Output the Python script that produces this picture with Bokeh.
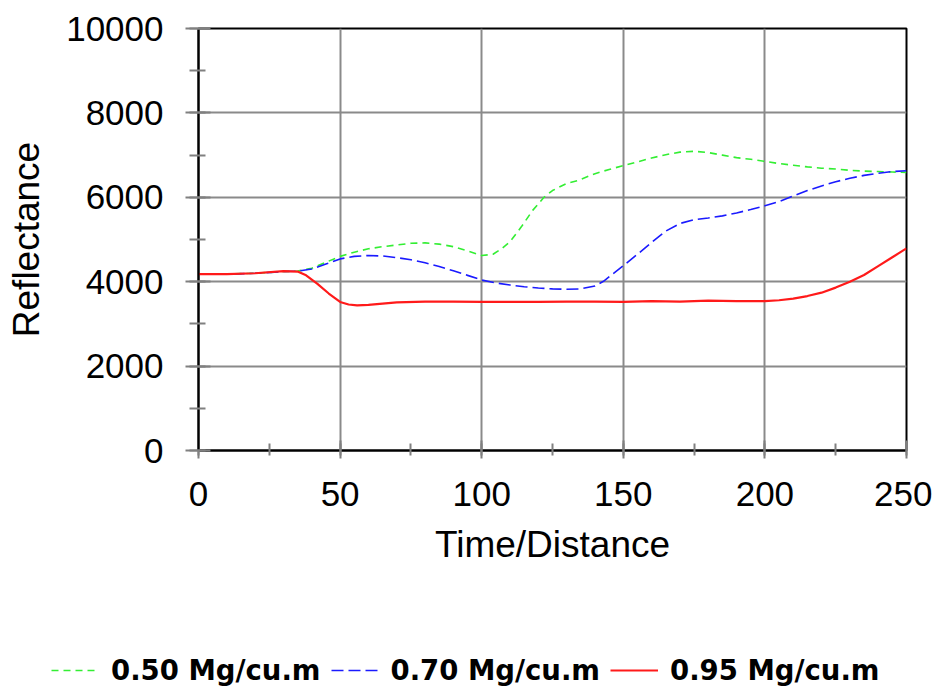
from bokeh.plotting import figure
from bokeh.layouts import column
from bokeh.models import Legend, LegendItem, SingleIntervalTicker, Range1d
from bokeh.embed import file_html
from bokeh.resources import INLINE

# ---- data ----
series_names = ["0.50 Mg/cu.m", "0.70 Mg/cu.m", "0.95 Mg/cu.m"]

x_050 = [0, 10, 20, 30, 35, 40, 45, 50, 55, 60, 65, 70, 75, 80, 85, 90, 95, 100,
         104, 107, 110, 114, 118, 122, 125, 130, 134, 140, 145, 150, 155, 160, 165,
         170, 175, 180, 185, 190, 195, 200, 205, 210, 215, 220, 225, 230, 235, 240,
         245, 250]
y_050 = [4180, 4180, 4200, 4240, 4250, 4320, 4460, 4600, 4700, 4780, 4830, 4870, 4910,
         4920, 4890, 4830, 4730, 4620, 4650, 4780, 4950, 5300, 5690, 6000, 6160, 6330,
         6400, 6560, 6660, 6750, 6840, 6930, 7010, 7070, 7090, 7060, 7000, 6940, 6900,
         6850, 6800, 6760, 6720, 6690, 6670, 6640, 6620, 6610, 6600, 6590]

x_070 = [0, 10, 20, 30, 35, 40, 45, 50, 55, 60, 65, 70, 75, 80, 85, 90, 95, 100, 105,
         110, 115, 120, 125, 130, 135, 140, 143, 146, 150, 155, 160, 165, 170, 175, 180,
         185, 190, 195, 200, 205, 210, 215, 220, 225, 230, 235, 240, 245, 250]
y_070 = [4180, 4180, 4200, 4240, 4250, 4300, 4420, 4540, 4600, 4620, 4610, 4570, 4520,
         4450, 4360, 4260, 4150, 4040, 3970, 3920, 3880, 3850, 3830, 3820, 3830, 3900,
         4010, 4170, 4380, 4650, 4930, 5200, 5380, 5470, 5510, 5560, 5630, 5710, 5800,
         5900, 6030, 6160, 6270, 6370, 6450, 6520, 6570, 6610, 6630]

x_095 = [0, 10, 20, 30, 35, 38, 42, 46, 50, 53, 56, 60, 65, 70, 80, 90, 100, 110, 120,
         130, 140, 150, 160, 170, 180, 190, 200, 205, 210, 215, 220, 225, 230, 235, 240,
         245, 250]
y_095 = [4180, 4180, 4200, 4250, 4240, 4150, 3950, 3720, 3520, 3460, 3440, 3450, 3480,
         3510, 3530, 3530, 3520, 3520, 3520, 3530, 3530, 3520, 3540, 3530, 3550, 3540,
         3540, 3560, 3600, 3660, 3740, 3860, 4000, 4160, 4370, 4580, 4790]

FONT = "Liberation Sans"
styles = [dict(line_color="#33ee33", line_width=1.6, line_dash="7 5"),
          dict(line_color="#1a1aff", line_width=1.6, line_dash="12 5"),
          dict(line_color="#ff1a1a", line_width=2.2)]
series = [(x_050, y_050), (x_070, y_070), (x_095, y_095)]

p = figure(frame_width=708, frame_height=422,
           min_border_left=198, min_border_right=26, min_border_top=28,
           min_border_bottom=140,
           x_range=Range1d(0, 250), y_range=Range1d(0, 10000),
           output_backend="svg", toolbar_location=None,
           x_axis_label="Time/Distance", y_axis_label="Reflectance")

p.background_fill_color = "white"
p.border_fill_color = "white"
p.outline_line_color = "black"
p.outline_line_width = 2

p.xaxis.ticker = SingleIntervalTicker(interval=50, num_minor_ticks=2)
p.yaxis.ticker = SingleIntervalTicker(interval=2000, num_minor_ticks=2)
p.xgrid.ticker = SingleIntervalTicker(interval=50)
p.ygrid.ticker = SingleIntervalTicker(interval=2000)

for g in (p.xgrid, p.ygrid):
    g.grid_line_color = "#8a8a8a"
    g.grid_line_width = 2

for ax in (p.xaxis, p.yaxis):
    ax.axis_line_color = "black"
    ax.axis_line_width = 2
    ax.major_tick_line_color = "#808080"
    ax.major_tick_line_width = 2
    ax.minor_tick_line_color = "#808080"
    ax.minor_tick_line_width = 2
    ax.major_label_text_font = FONT
    ax.major_label_text_font_size = "35px"
    ax.major_label_text_color = "black"
    ax.axis_label_text_font = FONT
    ax.axis_label_text_font_size = "37px"
    ax.axis_label_text_font_style = "normal"
    ax.axis_label_text_color = "black"

p.yaxis.major_tick_out = 13
p.yaxis.major_tick_in = 12
p.yaxis.minor_tick_out = 9
p.yaxis.minor_tick_in = 7
p.yaxis.major_label_standoff = 22
p.yaxis.axis_label_standoff = 16

p.xaxis.major_tick_out = 8
p.xaxis.major_tick_in = 10
p.xaxis.minor_tick_out = 5
p.xaxis.minor_tick_in = 7
p.xaxis.major_label_standoff = 23
p.xaxis.axis_label_standoff = 15

for (xs, ys), st in zip(series, styles):
    p.line(xs, ys, **st)

# legend strip below the chart (same series, lines hidden, only the key shows)
pl = figure(width=932, height=98, min_border=0, x_axis_type=None, y_axis_type=None,
            x_range=Range1d(0, 250), y_range=Range1d(0, 10000),
            output_backend="svg", toolbar_location=None)
pl.outline_line_color = None
pl.grid.visible = False
pl.background_fill_color = "white"
pl.border_fill_color = "white"
hidden = [pl.line(xs, ys, visible=False, **st) for (xs, ys), st in zip(series, styles)]

legend_x = 51
if "frame_align" in pl.properties():
    pl.frame_align = False
    p.frame_align = False
else:
    legend_x = 51 - 198

legend = Legend(items=[LegendItem(label=n, renderers=[r]) for n, r in zip(series_names, hidden)],
                orientation="horizontal", location=(legend_x, 2))
legend.label_text_font = "DejaVu Sans"
legend.label_text_font_style = "bold"
legend.label_text_font_size = "27.5px"
legend.label_text_color = "black"
legend.glyph_width = 48
legend.label_standoff = 12
legend.spacing = 10
legend.padding = 0
legend.margin = 0
legend.border_line_color = None
legend.background_fill_alpha = 0
legend.inactive_fill_alpha = 0
pl.add_layout(legend, "center")

layout = column(p, pl, spacing=0)
open("out.html", "w").write(file_html(layout, INLINE))
